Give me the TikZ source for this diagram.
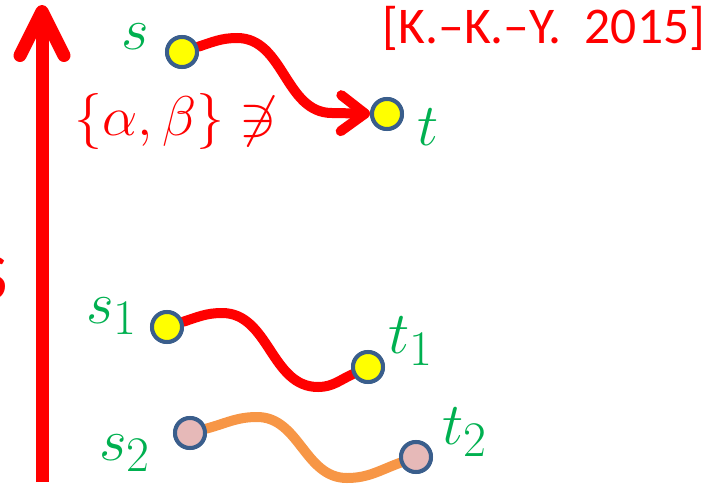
\documentclass[tikz,border=0pt]{standalone}
\usepackage{amsmath,amssymb}
\usepackage{graphicx}
\usepackage{fontspec}
\newfontfamily\calib{Carlito}
\usetikzlibrary{arrows.meta}
\definecolor{pRed}{HTML}{FF0000}
\definecolor{pGreen}{HTML}{00B050}
\definecolor{pYellow}{HTML}{FFFF00}
\definecolor{pBorder}{HTML}{3A5E8C}
\definecolor{pPink}{HTML}{E6B9B8}
\definecolor{pOrange}{HTML}{F79646}
\newcommand{\biglbl}[2]{\scalebox{#1}{\Huge #2}}
\tikzset{
  vert/.style={circle, draw=pBorder, line width=4pt, minimum size=30pt, inner sep=0pt},
  yv/.style={vert, fill=pYellow},
  pv/.style={vert, fill=pPink},
  lbl/.style={text=pGreen, inner sep=0pt},
  redpath/.style={draw=pRed, line width=10pt, line cap=round},
  orpath/.style={draw=pOrange, line width=10pt, line cap=round},
  axisline/.style={draw=pRed, line width=13pt, -{Straight Barb[length=44pt,width=44pt,round]}},
}
\begin{document}
\begin{tikzpicture}[x=1pt,y=-1pt]
\useasboundingbox (0,0) rectangle (712,490);
% clipped fragment at the left edge
\begin{scope}
\clip (0,0) rectangle (712,490);
\node[text=pRed, inner sep=0pt, anchor=east, font=\calib\fontsize{66}{66}\selectfont] (frag) at (8,278) {S};
\end{scope}
% vertical axis arrow
\coordinate (axb) at (42,482);
\coordinate (axt) at (42,5);
\draw[axisline] (axb) -- (axt);
% vertices
\node[yv] (s) at (182,52) {};
\node[yv] (t) at (387,114) {};
\node[yv] (s1) at (167,327) {};
\node[yv] (t1) at (368,367) {};
\node[pv] (s2) at (190,433) {};
\node[pv] (t2) at (416,457) {};
% bend points of the curves
\coordinate (pk) at (237,38);
\coordinate (fl) at (332,113);
\coordinate (pk1) at (222,313);
\coordinate (tr1) at (318,387);
\coordinate (pk2) at (257,417);
\coordinate (tr2) at (347,478);
% labels
\node[lbl] (ls) at (135,37) {\biglbl{2.4}{$s$}};
\node[lbl] (lt) at (428,127) {\biglbl{2.4}{$t$}};
\node[lbl] (ls1) at (112,316) {\biglbl{2.4}{$s_1$}};
\node[lbl] (ls2) at (125,453) {\biglbl{2.4}{$s_2$}};
\node[lbl] (lt1) at (411,341) {\biglbl{2.4}{$t_1$}};
\node[lbl] (lt2) at (465,432) {\biglbl{2.4}{$t_2$}};
\node[text=pRed, inner sep=0pt] (ab) at (176,122) {\biglbl{2.25}{$\{\alpha,\beta\}\not\ni$}};
\node[text=pRed, inner sep=0pt, font=\calib\fontsize{51.5}{52}\selectfont] (cite) at (544,28) {[K.–K.–Y.\ \ 2015]};
% paths
\draw[redpath, -{Straight Barb[length=24pt,width=36pt,round]}] (s) to[out=18,in=180] (pk) to[out=0,in=180] (fl) -- (t);
\draw[redpath] (s1) to[out=18,in=180] (pk1) to[out=0,in=180] (tr1) to[out=0,in=205] (t1);
\draw[orpath] (s2) to[out=15,in=180] (pk2) to[out=0,in=180] (tr2) to[out=0,in=200] (t2);
% redraw vertices on top
\node[yv] at (s) {};
\node[yv] at (t) {};
\node[yv] at (s1) {};
\node[yv] at (t1) {};
\node[pv] at (s2) {};
\node[pv] at (t2) {};
\end{tikzpicture}
\end{document}
